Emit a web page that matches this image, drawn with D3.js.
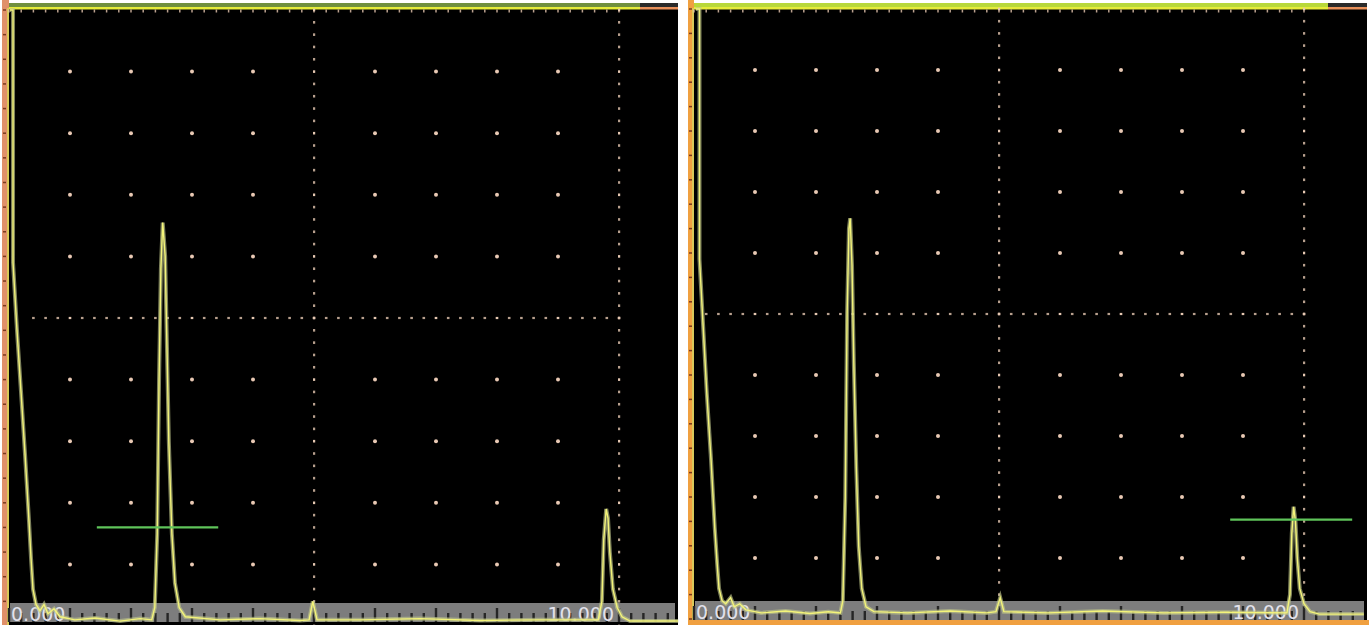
<!DOCTYPE html>
<html>
<head>
<meta charset="utf-8">
<script src="https://cdn.jsdelivr.net/npm/d3@7"></script>
<style>
  body { margin: 0; background: #fff; }
  svg { display: block; }
</style>
</head>
<body>
<svg id="chart" width="1371" height="625"></svg>
<script>
// A-scan traces: [time (screen divisions), amplitude %]
const leftEcho = [
  [0.016,100],[0.066,100],[0.066,59],[0.131,48],[0.197,38],[0.262,28],[0.328,17],[0.361,11],
  [0.393,6],[0.443,3.5],[0.508,2.5],[0.574,3.5],[0.639,2],[0.738,2.8],[0.836,1.5],[1.08,1],
  [1.41,1.3],[1.82,0.8],[2.15,1.2],[2.34,1],[2.39,3],[2.43,15],[2.46,40],[2.49,58],[2.52,65.5],
  [2.56,60],[2.59,45],[2.62,30],[2.67,15],[2.72,7],[2.79,3],[2.89,1.5],[3.46,1],[4.11,1.2],
  [4.77,0.9],[4.92,1],[4.98,4],[5.05,1],[5.75,1],[6.74,1.2],[7.72,0.9],[8.70,1],[9.66,1],
  [9.72,4],[9.75,14],[9.79,19],[9.82,17.5],[9.85,12],[9.90,6],[9.97,3],[10.05,1.5],[10.18,0.8],[10.97,0.8]
];
const rightEcho = [
  [0.03,100],[0.09,100],[0.09,59],[0.15,48],[0.21,37],[0.28,26],[0.34,15],[0.38,9],[0.41,5],
  [0.46,3],[0.52,2.5],[0.6,3.5],[0.66,2],[0.75,2.5],[0.85,1.5],[1.1,1],[1.5,1.3],[1.9,0.9],
  [2.2,1.2],[2.40,1],[2.44,3],[2.48,20],[2.51,50],[2.54,64],[2.56,65.7],[2.59,58],[2.62,42],
  [2.66,25],[2.70,12],[2.75,5],[2.82,2],[2.95,1.2],[3.5,1],[4.2,1.3],[4.8,1],[4.95,1.2],
  [5.02,3.5],[5.08,1.2],[5.8,1],[6.7,1.3],[7.7,1],[8.7,1.1],[9.72,1],[9.77,4],[9.80,14],
  [9.83,18.4],[9.86,16],[9.89,10],[9.93,5],[10.0,2.5],[10.1,1.2],[10.25,0.8],[10.98,0.8]
];
// gates: [start, end, level %]
const leftGate = [1.44, 3.43, 16];
const rightGate = [8.79, 10.79, 16.3];
const rangeLabels = ["0.000", "10.000"];
const gridCols = d3.range(1, 10);
const gridRows = d3.range(10, 100, 10);

const svg = d3.select('#chart');

function drawPanel(p) {
  const x = d3.scaleLinear().domain([0, 10]).range([p.left, p.left + 10 * p.divW]);
  const y = d3.scaleLinear().domain([0, 100]).range([p.top + 10 * p.divH, p.top]);
  const g = svg.append('g');

  // frame pieces
  g.append('rect').attr('x', p.frameX).attr('y', 0).attr('width', p.frameW).attr('height', 625)
    .attr('fill', p.edgeColor);
  g.append('rect').attr('x', p.left).attr('y', 8).attr('width', p.right - p.left).attr('height', p.bottom - 8)
    .attr('fill', '#000');
  g.append('rect').attr('x', p.left).attr('y', 3).attr('width', p.barEnd - p.left).attr('height', 5)
    .attr('fill', p.barColor);
  g.append('rect').attr('x', p.barEnd).attr('y', 3).attr('width', p.right - p.barEnd).attr('height', 5)
    .attr('fill', '#2a2a2a');
  g.append('rect').attr('x', p.left).attr('y', 7).attr('width', p.barEnd - p.left).attr('height', 2.5)
    .attr('fill', '#e6ec3a');
  g.append('rect').attr('x', p.barEnd).attr('y', 7).attr('width', p.right - p.barEnd).attr('height', 2.5)
    .attr('fill', '#e8905a');
  g.append('rect').attr('x', p.left - 2).attr('y', 8).attr('width', 2).attr('height', p.bottom - 8)
    .attr('fill', '#d9c85a');

  // small ticks along top and left edges
  const minor = d3.range(0, 10.01, 0.2);
  g.selectAll('.tt').data(minor).enter().append('rect')
    .attr('x', d => x(d) - 0.75).attr('y', 9.5).attr('width', 1.5).attr('height', 3)
    .attr('fill', '#e8c8b0').attr('opacity', 0.8);
  const minorY = d3.range(0, 100.01, 4);
  g.selectAll('.lt').data(minorY).enter().append('rect')
    .attr('x', p.frameX + 1).attr('y', d => y(d) - 0.75).attr('width', 3).attr('height', 1.5)
    .attr('fill', '#7a3a20');

  // grid dots
  const dots = [];
  gridCols.forEach(c => gridRows.forEach(r => dots.push([c, r])));
  g.selectAll('.dot').data(dots.filter(d => d[0] !== 5 && d[1] !== 50)).enter().append('circle')
    .attr('cx', d => x(d[0])).attr('cy', d => y(d[1])).attr('r', 2)
    .attr('fill', '#e9c9b4');

  // dotted centre / end lines
  const sub = d3.range(0, 100.01, 2);
  [5, 10].forEach(c => {
    g.selectAll('.v' + c).data(sub).enter().append('rect')
      .attr('x', x(c) - 1).attr('y', d => y(d) - 1.3).attr('width', 2.2).attr('height', 2.6)
      .attr('fill', '#e6c8b2').attr('opacity', d => d % 10 === 0 ? 1 : 0.8);
  });
  g.selectAll('.hz').data(d3.range(p.hStart, 10.01, 0.2)).enter().append('rect')
    .attr('x', d => x(d) - 1.3).attr('y', y(50) - 1.1).attr('width', 2.6).attr('height', 2.2)
    .attr('fill', '#e6c8b2').attr('opacity', d => Math.abs(d - Math.round(d)) < 0.01 ? 1 : 0.8);

  // bottom ruler bar
  g.append('rect').attr('x', p.left + 1).attr('y', p.barY).attr('width', p.right - p.left - 4).attr('height', 19)
    .attr('fill', '#7d7d7d');
  const rulerTicks = d3.range(0, 10.99, 0.2);
  g.selectAll('.rt').data(rulerTicks).enter().append('rect')
    .attr('x', d => x(d) - 1.2).attr('width', 2.4)
    .attr('y', d => p.barY + (Math.abs(d - Math.round(d)) < 0.01 ? 5 : 10))
    .attr('height', d => Math.abs(d - Math.round(d)) < 0.01 ? 14 : 9)
    .attr('fill', '#262626');
  g.append('text').attr('x', x(0) + 2).attr('y', p.barY + 18).text(rangeLabels[0])
    .attr('font-family', 'DejaVu Sans').attr('font-size', 19).attr('fill', '#e2e2ec');
  g.append('text').attr('x', x(10) - 5).attr('y', p.barY + 18).attr('text-anchor', 'end').text(rangeLabels[1])
    .attr('font-family', 'DejaVu Sans').attr('font-size', 19).attr('fill', '#e2e2ec');

  // echo trace
  const line = d3.line().x(d => x(d[0])).y(d => y(d[1]));
  g.append('path').datum(p.trace).attr('d', line).attr('fill', 'none')
    .attr('stroke', '#bfc48a').attr('stroke-width', 4).attr('opacity', 0.65);
  g.append('path').datum(p.trace).attr('d', line).attr('fill', 'none')
    .attr('stroke', '#f4f47a').attr('stroke-width', 1.4);

  // gate
  g.append('line').attr('x1', x(p.gate[0])).attr('x2', x(p.gate[1]))
    .attr('y1', y(p.gate[2])).attr('y2', y(p.gate[2]))
    .attr('stroke', '#5fc45a').attr('stroke-width', 2.2);

  if (p.bottomEdge) {
    g.append('rect').attr('x', p.frameX).attr('y', p.bottom).attr('width', p.right - p.frameX + 2).attr('height', 625 - p.bottom)
      .attr('fill', '#f0a040');
  }
}

drawPanel({
  frameX: 2, frameW: 7, left: 9, top: 10, divW: 61, divH: 61.6, right: 678, bottom: 625,
  barEnd: 640, barColor: '#6f8f3e', edgeColor: '#e0906a', barY: 603, hStart: 0.4,
  trace: leftEcho, gate: leftGate, bottomEdge: false
});
drawPanel({
  frameX: 688, frameW: 6, left: 694, top: 9, divW: 61, divH: 61, right: 1367, bottom: 620,
  barEnd: 1328, barColor: '#b8d83a', edgeColor: '#f0a040', barY: 601, hStart: 0.2,
  trace: rightEcho, gate: rightGate, bottomEdge: true
});
</script>
</body>
</html>
